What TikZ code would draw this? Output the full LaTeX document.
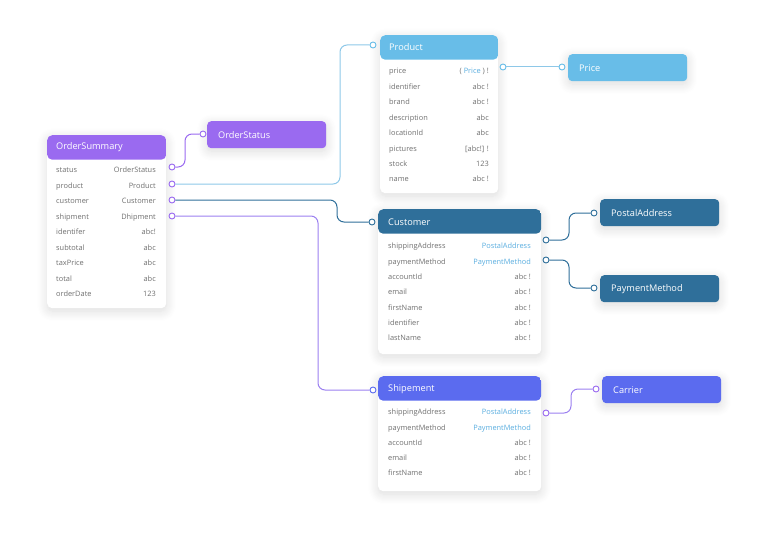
\documentclass[tikz,border=0pt]{standalone}
\usepackage{fontspec}
\setmainfont{Open Sans}
\usetikzlibrary{shadows.blur,calc}
\definecolor{cpurple}{HTML}{9A6AF0}
\definecolor{clblue}{HTML}{68BDE8}
\definecolor{cdblue}{HTML}{2F6F9A}
\definecolor{cperi}{HTML}{5B6BEF}
\definecolor{ctext}{HTML}{707070}
\definecolor{clink}{HTML}{5AAEE0}
\definecolor{clbline}{HTML}{8EC8E8}
\definecolor{cpline}{HTML}{9B80F0}
\tikzset{
  softshadow/.style={blur shadow={shadow xshift=0pt, shadow yshift=-3pt, shadow blur radius=10pt, shadow opacity=14, shadow blur steps=10}},
  card/.style={fill=white, rounded corners=5pt, anchor=north west, inner sep=0pt, softshadow,
    path picture={\fill[#1] (path picture bounding box.north west) rectangle ([yshift=-24.5pt]path picture bounding box.north east);}},
  htext/.style={anchor=west, text=white, font=\fontsize{9.2}{11}\selectfont, inner sep=0pt},
  rlabel/.style={anchor=west, text=ctext, font=\fontsize{7.4}{8}\selectfont, inner sep=0pt, text height=5pt, text depth=1.5pt},
  rval/.style={anchor=east, text=ctext, font=\fontsize{7.4}{8}\selectfont, inner sep=0pt, text height=5pt, text depth=1.5pt},
  tbox/.style={fill=#1, rounded corners=4pt, anchor=north west, minimum height=27pt, text width=97pt, inner xsep=11pt, align=left, text=white, font=\fontsize{9.2}{11}\selectfont, softshadow},
  port/.style={circle, draw=#1, fill=white, line width=0.9pt, inner sep=0pt, minimum size=6pt},
  conn/.style={draw=#1, line width=1pt, rounded corners=7pt},
}
\newcommand{\lk}[1]{\textcolor{clink}{#1}}
\begin{document}
\begin{tikzpicture}[x=1pt,y=-1pt]
\useasboundingbox (0,0) rectangle (768,551);

% ---------- OrderSummary ----------
\node[card=cpurple, minimum width=119pt, minimum height=173pt] (os) at (47,135) {};
\node[htext] (os-t) at (56,147) {OrderSummary};
\foreach \l/\v [count=\i from 0] in {status/OrderStatus, product/Product, customer/Customer, shipment/Dhipment, identifer/abc!, subtotal/abc, taxPrice/abc, total/abc, orderDate/123}{
  \node[rlabel] (os-l\i) at (56,{171+15.5*\i}) {\l};
  \node[rval] (os-v\i) at (156,{171+15.5*\i}) {\v};
}

% ---------- Product ----------
\node[card=clblue, minimum width=118pt, minimum height=158pt] (pr) at (380,35) {};
\node[htext] (pr-t) at (389,47) {Product};
\foreach \l/\v [count=\i from 0] in {price/{( \lk{Price} ) !}, identifier/abc !, brand/abc !, description/abc, locationId/abc, pictures/{[abc!] !}, stock/123, name/abc !}{
  \node[rlabel] (pr-l\i) at (389,{72+15.45*\i}) {\l};
  \node[rval] (pr-v\i) at (489,{72+15.45*\i}) {\v};
}

% ---------- Customer ----------
\node[card=cdblue, minimum width=163pt, minimum height=145pt] (cu) at (378,209) {};
\node[htext] (cu-t) at (388,222) {Customer};
\foreach \l/\v [count=\i from 0] in {shippingAddress/\lk{PostalAddress}, paymentMethod/\lk{PaymentMethod}, accountId/abc !, email/abc !, firstName/abc !, identifier/abc !, lastName/abc !}{
  \node[rlabel] (cu-l\i) at (388,{247+15.35*\i}) {\l};
  \node[rval] (cu-v\i) at (531,{247+15.35*\i}) {\v};
}

% ---------- Shipement ----------
\node[card=cperi, minimum width=163pt, minimum height=115pt] (sh) at (378,376) {};
\node[htext] (sh-t) at (388,389) {Shipement};
\foreach \l/\v [count=\i from 0] in {shippingAddress/\lk{PostalAddress}, paymentMethod/\lk{PaymentMethod}, accountId/abc !, email/abc !, firstName/abc !}{
  \node[rlabel] (sh-l\i) at (388,{413+15.3*\i}) {\l};
  \node[rval] (sh-v\i) at (531,{413+15.3*\i}) {\v};
}

% ---------- small type boxes ----------
\node[tbox=cpurple] (ost) at (207,121) {OrderStatus};
\node[tbox=clblue] (pri) at (568,54) {Price};
\node[tbox=cdblue] (pad) at (600,199) {PostalAddress};
\node[tbox=cdblue] (pme) at (600,275) {PaymentMethod};
\node[tbox=cperi] (car) at (602,376) {Carrier};

% ---------- ports ----------
\node[port=cpurple] (p-os1) at (172,167) {};
\node[port=cpurple] (p-os2) at (172,184) {};
\node[port=cpurple] (p-os3) at (172,200) {};
\node[port=cpurple] (p-os4) at (172,216) {};
\node[port=cpurple] (p-ost) at (203,134) {};
\node[port=clblue] (p-prin) at (373,45) {};
\node[port=clblue] (p-prout) at (503,67) {};
\node[port=clblue] (p-pri) at (562,67) {};
\node[port=cdblue] (p-cuin) at (372,222) {};
\node[port=cdblue] (p-cu1) at (546,240) {};
\node[port=cdblue] (p-cu2) at (546,260) {};
\node[port=cdblue] (p-pad) at (594,213) {};
\node[port=cdblue] (p-pme) at (594,288) {};
\node[port=cperi] (p-shin) at (373,390) {};
\node[port=cpurple] (p-sh1) at (546,413) {};
\node[port=cpurple] (p-car) at (596,389) {};

% ---------- connectors ----------
\draw[conn=cpurple] (p-os1) -| ([xshift=-18pt]p-ost.center) -- (p-ost);
\draw[conn=clbline] (p-os2) -| ([xshift=-33pt]p-prin.center) -- (p-prin);
\draw[conn=cdblue] (p-os3) -| ([xshift=-35pt]p-cuin.center) -- (p-cuin);
\draw[conn=cpline] (p-os4) -| ([xshift=-55pt]p-shin.center) -- (p-shin);
\draw[conn=clbline] (p-prout) -- (p-pri);
\draw[conn=cdblue] (p-cu1) -| ([xshift=-25pt]p-pad.center) -- (p-pad);
\draw[conn=cdblue] (p-cu2) -| ([xshift=-25pt]p-pme.center) -- (p-pme);
\draw[conn=cpline] (p-sh1) -| ([xshift=-25pt]p-car.center) -- (p-car);
\end{tikzpicture}
\end{document}
